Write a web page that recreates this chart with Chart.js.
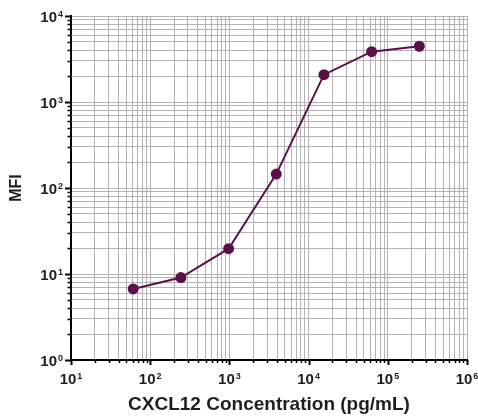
<!DOCTYPE html>
<html>
<head>
<meta charset="utf-8">
<script src="https://cdn.jsdelivr.net/npm/chart.js@4.4.0/dist/chart.umd.min.js"></script>
<style>
  html, body { margin: 0; padding: 0; background: #fff; }
  #wrap { width: 478px; height: 418px; }
</style>
</head>
<body>
<div id="wrap"><canvas id="c"></canvas></div>
<script>
// ---------- data ----------
const concentrations = [61, 244, 977, 3906, 15625, 62500, 250000]; // pg/mL
const mfiValues = [6.7, 9.1, 19.7, 145, 2080, 3850, 4450];

const xDecades = [1, 2, 3, 4, 5, 6];   // 10^1 .. 10^6
const yDecades = [0, 1, 2, 3, 4];      // 10^0 .. 10^4

const LINE = '#5b1049';
const GRID = '#b3b3b3';
const TEXT = '#1e1e1e';
const FONT = 'Arial, "Liberation Sans", sans-serif';

// grid values: 1..9 x each decade, plus the closing decade
const logTicks = (decades) => {
  const out = [];
  for (let i = 0; i < decades.length - 1; i++) {
    for (let m = 1; m <= 9; m++) out.push(m * Math.pow(10, decades[i]));
  }
  out.push(Math.pow(10, decades[decades.length - 1]));
  return out;
};

const isDecade = (v) => Math.abs(Math.log10(v) - Math.round(Math.log10(v))) < 1e-9;

// "10" with a raised exponent, drawn as text
const drawPow = (ctx, exp, x, baseline, align) => {
  ctx.font = `bold 15px ${FONT}`;
  const w1 = ctx.measureText('10').width;
  ctx.font = `bold 9px ${FONT}`;
  const w2 = ctx.measureText(String(exp)).width + 1;
  const start = align === 'center' ? x - (w1 + w2) / 2 : x - (w1 + w2);
  ctx.textAlign = 'left';
  ctx.textBaseline = 'alphabetic';
  ctx.font = `bold 15px ${FONT}`;
  ctx.fillText('10', start, baseline);
  ctx.font = `bold 9px ${FONT}`;
  ctx.fillText(String(exp), start + w1 + 1, baseline - 5);
};

const axisDecor = {
  id: 'axisDecor',
  afterDraw(chart) {
    const { ctx, scales: { x, y } } = chart;
    ctx.save();
    ctx.strokeStyle = '#000';
    // tick marks, long at decades
    logTicks(xDecades).forEach(v => {
      const px = Math.round(x.getPixelForValue(v)) + 0.5;
      const major = isDecade(v);
      ctx.lineWidth = major ? 2 : 1.5;
      ctx.beginPath();
      ctx.moveTo(px, y.bottom);
      ctx.lineTo(px, y.bottom + (major ? 5 : 3));
      ctx.stroke();
    });
    logTicks(yDecades).forEach(v => {
      const py = Math.round(y.getPixelForValue(v)) + 0.5;
      const major = isDecade(v);
      ctx.lineWidth = major ? 2 : 1.5;
      ctx.beginPath();
      ctx.moveTo(x.left, py);
      ctx.lineTo(x.left - (major ? 6 : 3.5), py);
      ctx.stroke();
    });
    // decade labels
    ctx.fillStyle = TEXT;
    xDecades.forEach(e => drawPow(ctx, e, x.getPixelForValue(Math.pow(10, e)), y.bottom + 24, 'center'));
    yDecades.forEach(e => drawPow(ctx, e, x.left - 8, y.getPixelForValue(Math.pow(10, e)) + 5.5, 'right'));
    ctx.restore();
  }
};

const axisCommon = (decades) => ({
  type: 'logarithmic',
  min: Math.pow(10, decades[0]),
  max: Math.pow(10, decades[decades.length - 1]),
  afterBuildTicks: (s) => { s.ticks = logTicks(decades).map(v => ({ value: v })); },
  border: { display: true, color: '#000', width: 2 },
  grid: { color: GRID, lineWidth: 1, drawTicks: false },
  ticks: { display: false, autoSkip: false }
});

const xAxis = axisCommon(xDecades);
xAxis.title = {
  display: true,
  text: 'CXCL12 Concentration (pg/mL)',
  color: TEXT,
  font: { family: FONT, size: 19, weight: 'bold' },
  padding: { top: 0, bottom: 1.6 }
};
xAxis.afterFit = (s) => { s.height = 58; };

const yAxis = axisCommon(yDecades);
yAxis.title = {
  display: true,
  text: 'MFI',
  color: TEXT,
  font: { family: FONT, size: 16, weight: 'bold' },
  padding: { top: 7, bottom: 0 }
};
yAxis.afterFit = (s) => { s.width = 71; };

new Chart(document.getElementById('c'), {
  type: 'scatter',
  data: {
    datasets: [{
      label: 'MFI',
      data: concentrations.map((x, i) => ({ x, y: mfiValues[i] })),
      showLine: true,
      borderColor: LINE,
      borderWidth: 2,
      backgroundColor: LINE,
      pointRadius: 4.5,
      pointHoverRadius: 4.5,
      tension: 0
    }]
  },
  options: {
    responsive: true,
    maintainAspectRatio: false,
    animation: false,
    layout: { padding: { top: 16, right: 11, left: 0, bottom: 0 } },
    plugins: {
      legend: { display: false },
      tooltip: { enabled: false }
    },
    scales: { x: xAxis, y: yAxis }
  },
  plugins: [axisDecor]
});
</script>
</body>
</html>
